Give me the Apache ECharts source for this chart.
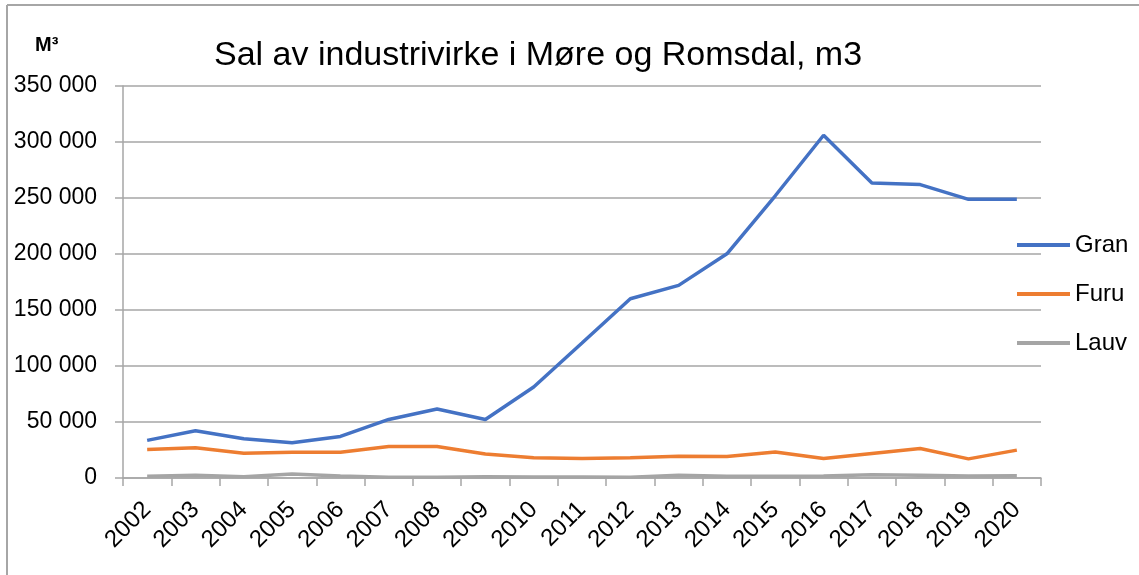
<!DOCTYPE html>
<html>
<head>
<meta charset="utf-8">
<script src="https://cdn.jsdelivr.net/npm/echarts@6/dist/echarts.min.js"></script>
<style>
  html, body { margin: 0; padding: 0; background: #fff; }
  #chart { width: 1139px; height: 575px; }
</style>
</head>
<body>
<div id="chart"></div>
<script>
// Sal av industrivirke i Møre og Romsdal, m3
const years = ["2002", "2003", "2004", "2005", "2006", "2007", "2008", "2009", "2010", "2011",
  "2012", "2013", "2014", "2015", "2016", "2017", "2018", "2019", "2020"];
const gran = [33600, 42200, 35100, 31500, 37100, 52300, 61600, 52300, 81200, 120500,
  160000, 172000, 200200, 252000, 306000, 263500, 262000, 248800, 248800];
const furu = [25400, 27000, 22000, 22900, 22900, 28200, 28200, 21400, 18100, 17500,
  18000, 19500, 19300, 23300, 17400, 21900, 26300, 17100, 24900];
const lauv = [1500, 2400, 1200, 3600, 1800, 600, 600, 1200, 900, 900,
  600, 2400, 1500, 1500, 1800, 3000, 2400, 1800, 2100];
const seriesNames = ["Gran", "Furu", "Lauv"];
const colors = ["#4472C4", "#ED7D31", "#A5A5A5"];

const font = "Liberation Sans";
const mychart = echarts.init(document.getElementById("chart"));

function fmt(v) {
  return String(v).replace(/\B(?=(\d{3})+(?!\d))/g, " ");
}

const option = {
  animation: false,
  backgroundColor: "#fff",
  color: colors,
  title: [
    {
      text: "Sal av industrivirke i Møre og Romsdal, m3",
      left: 209,
      top: 34,
      textStyle: { fontFamily: font, fontSize: 34, fontWeight: "normal", color: "#000" }
    },
    {
      text: "M³",
      left: 30,
      top: 30,
      textStyle: { fontFamily: font, fontSize: 20, fontWeight: "bold", color: "#000" }
    }
  ],
  legend: {
    orient: "vertical",
    left: 1012,
    top: 228,
    icon: "rect",
    itemWidth: 53,
    itemHeight: 4,
    itemGap: 25,
    textStyle: { fontFamily: font, fontSize: 24, color: "#000" },
    data: seriesNames
  },
  grid: {
    left: 123,
    right: 98,
    top: 86,
    bottom: 97,
    containLabel: false
  },
  xAxis: {
    type: "category",
    data: years,
    boundaryGap: true,
    axisLine: { lineStyle: { color: "#a6a6a6", width: 1.5 } },
    axisTick: { show: true, length: 8, lineStyle: { color: "#a6a6a6", width: 1.5 } },
    axisLabel: {
      rotate: 45,
      interval: 0,
      margin: 28,
      fontFamily: font,
      fontSize: 24,
      color: "#000"
    }
  },
  yAxis: {
    type: "value",
    min: 0,
    max: 350000,
    interval: 50000,
    axisLine: { show: true, lineStyle: { color: "#a6a6a6", width: 1.5 } },
    axisTick: { show: true, length: 8, lineStyle: { color: "#a6a6a6", width: 1.5 } },
    axisLabel: {
      margin: 26,
      fontFamily: font,
      fontSize: 23,
      color: "#000",
      formatter: fmt
    },
    splitLine: { lineStyle: { color: "#a6a6a6", width: 1.5 } }
  },
  graphic: [
    { type: "line", shape: { x1: 7, y1: 5, x2: 7, y2: 575 }, style: { stroke: "#a6a6a6", lineWidth: 2 } },
    { type: "line", shape: { x1: 7, y1: 5, x2: 1139, y2: 5 }, style: { stroke: "#a6a6a6", lineWidth: 2 } }
  ],
  series: [
    { name: "Gran", type: "line", data: gran, symbol: "none", lineStyle: { width: 3.5 } },
    { name: "Furu", type: "line", data: furu, symbol: "none", lineStyle: { width: 3.5 } },
    { name: "Lauv", type: "line", data: lauv, symbol: "none", lineStyle: { width: 3.5 } }
  ]
};
mychart.setOption(option);
</script>
</body>
</html>
